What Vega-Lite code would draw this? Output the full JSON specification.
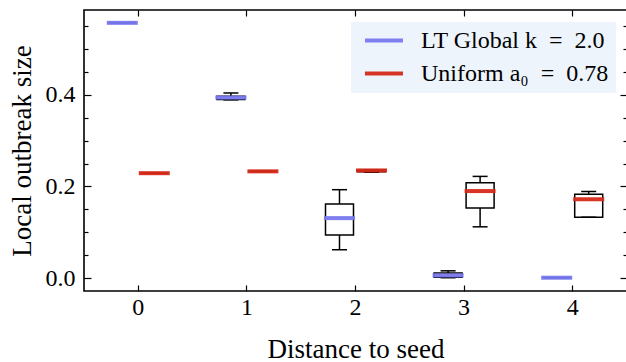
{
  "$schema": "https://vega.github.io/schema/vega-lite/v6.json",
  "width": 543,
  "height": 281,
  "autosize": {"type": "none"},
  "padding": {"left": 84, "top": 10, "right": 0, "bottom": 71},
  "background": "white",
  "config": {
    "view": {"stroke": "black", "strokeWidth": 1.6},
    "font": "Liberation Serif",
    "axis": {
      "labelFont": "Liberation Serif",
      "titleFont": "Liberation Serif",
      "labelFontSize": 24,
      "titleFontSize": 27,
      "titleFontWeight": "normal",
      "labelColor": "black",
      "titleColor": "black",
      "tickColor": "black",
      "tickWidth": 1.2,
      "grid": false,
      "domain": false
    },
    "legend": {
      "orient": "top-right",
      "offset": 12,
      "padding": 6,
      "fillColor": "#eef4fb",
      "strokeColor": "#eef4fb",
      "cornerRadius": 0,
      "labelFont": "Liberation Serif",
      "labelFontSize": 24,
      "labelColor": "black",
      "labelOffset": 39,
      "rowPadding": 8,
      "symbolType": "M-0.43,0H3.19",
      "symbolSize": 441,
      "symbolStrokeWidth": 4,
      "labelLimit": 400
    }
  },
  "data": {
    "values": [
      {"distance": 0, "series": "LT Global k = 2.0", "lower": 0.557, "q1": 0.557, "median": 0.557, "q3": 0.557, "upper": 0.557},
      {"distance": 0, "series": "Uniform a₀ = 0.78", "lower": 0.229, "q1": 0.229, "median": 0.229, "q3": 0.229, "upper": 0.229},
      {"distance": 1, "series": "LT Global k = 2.0", "lower": 0.389, "q1": 0.39, "median": 0.394, "q3": 0.397, "upper": 0.404},
      {"distance": 1, "series": "Uniform a₀ = 0.78", "lower": 0.233, "q1": 0.233, "median": 0.233, "q3": 0.233, "upper": 0.233},
      {"distance": 2, "series": "LT Global k = 2.0", "lower": 0.062, "q1": 0.094, "median": 0.131, "q3": 0.162, "upper": 0.193},
      {"distance": 2, "series": "Uniform a₀ = 0.78", "lower": 0.231, "q1": 0.232, "median": 0.235, "q3": 0.236, "upper": 0.236},
      {"distance": 3, "series": "LT Global k = 2.0", "lower": 0.001, "q1": 0.002, "median": 0.006, "q3": 0.011, "upper": 0.016},
      {"distance": 3, "series": "Uniform a₀ = 0.78", "lower": 0.112, "q1": 0.153, "median": 0.19, "q3": 0.208, "upper": 0.222},
      {"distance": 4, "series": "LT Global k = 2.0", "lower": 0.001, "q1": 0.001, "median": 0.001, "q3": 0.001, "upper": 0.001},
      {"distance": 4, "series": "Uniform a₀ = 0.78", "lower": 0.133, "q1": 0.133, "median": 0.172, "q3": 0.183, "upper": 0.189}
    ]
  },
  "layer": [
    {
      "mark": {"type": "rule", "color": "black", "strokeWidth": 1.5},
      "encoding": {
        "x": {"field": "distance", "type": "ordinal", "scale": {"paddingInner": 0, "paddingOuter": 0},
              "axis": {"orient": "bottom", "title": "Distance to seed", "labelAngle": 0, "tickSize": -6, "labelPadding": 10, "titlePadding": 17}},
        "xOffset": {"field": "series", "type": "nominal", "sort": ["LT Global k = 2.0", "Uniform a₀ = 0.78"], "scale": {"paddingInner": 0.125, "paddingOuter": 0.759}},
        "y": {"field": "lower", "type": "quantitative", "scale": {"domain": [-0.028, 0.585], "nice": false, "zero": false},
              "axis": {"orient": "left", "values": [0, 0.2, 0.4], "format": ".1f", "tickSize": -7, "labelPadding": 16, "title": "Local outbreak size", "titlePadding": 9}},
        "y2": {"field": "upper"}
      }
    },
    {
      "mark": {"type": "bar", "fill": "white", "stroke": "black", "strokeWidth": 1.5, "width": {"band": 1}},
      "encoding": {
        "x": {"field": "distance", "type": "ordinal", "axis": {"orient": "top", "labels": false, "title": null, "tickSize": -6}},
        "xOffset": {"field": "series", "type": "nominal", "sort": ["LT Global k = 2.0", "Uniform a₀ = 0.78"]},
        "y": {"field": "q1", "type": "quantitative", "axis": {"orient": "right", "values": [0, 0.2, 0.4], "labels": false, "title": null, "tickSize": -7}},
        "y2": {"field": "q3"}
      }
    },
    {
      "mark": {"type": "tick", "color": "black", "size": 15, "thickness": 1.5, "opacity": 1},
      "encoding": {
        "x": {"field": "distance", "type": "ordinal", "axis": null},
        "xOffset": {"field": "series", "type": "nominal", "sort": ["LT Global k = 2.0", "Uniform a₀ = 0.78"]},
        "y": {"field": "lower", "type": "quantitative", "axis": {"orient": "left", "values": [0.05, 0.1, 0.15, 0.25, 0.3, 0.35, 0.45, 0.5, 0.55], "labels": false, "title": null, "tickSize": -4}}
      }
    },
    {
      "mark": {"type": "tick", "color": "black", "size": 15, "thickness": 1.5, "opacity": 1},
      "encoding": {
        "x": {"field": "distance", "type": "ordinal", "axis": null},
        "xOffset": {"field": "series", "type": "nominal", "sort": ["LT Global k = 2.0", "Uniform a₀ = 0.78"]},
        "y": {"field": "upper", "type": "quantitative", "axis": {"orient": "right", "values": [0.05, 0.1, 0.15, 0.25, 0.3, 0.35, 0.45, 0.5, 0.55], "labels": false, "title": null, "tickSize": -4}}
      }
    },
    {
      "mark": {"type": "tick", "filled": false, "size": 28.5, "thickness": 1.5, "strokeWidth": 2.5, "opacity": 0.95},
      "encoding": {
        "x": {"field": "distance", "type": "ordinal", "axis": null},
        "xOffset": {"field": "series", "type": "nominal", "sort": ["LT Global k = 2.0", "Uniform a₀ = 0.78"]},
        "y": {"field": "median", "type": "quantitative", "axis": null},
        "color": {"field": "series", "type": "nominal",
                  "scale": {"domain": ["LT Global k = 2.0", "Uniform a₀ = 0.78"], "range": ["#7878f0", "#d62a1a"]},
                  "legend": {"title": null, "labelExpr": "datum.label == 'LT Global k = 2.0' ? 'LT Global k\u2002=\u20022.0' : 'Uniform a₀\u2002=\u20020.78'"}}
      }
    }
  ],
  "resolve": {"axis": {"x": "independent", "y": "independent"}}
}
